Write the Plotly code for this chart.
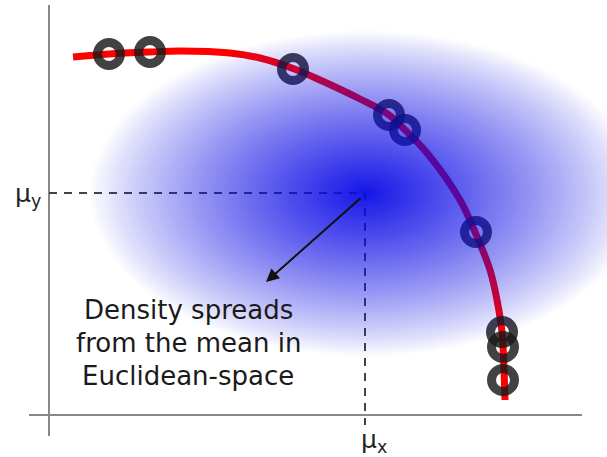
import numpy as np
import plotly.graph_objects as go

# ---- data (origin at the axes crossing, y upward) ----
curve_x = [24, 60, 101, 131, 181, 211, 244, 271, 311, 340, 356, 378, 411, 426, 441, 448, 453, 455, 456]
curve_y = [358, 361, 363, 364, 362, 357, 346.5, 335, 316, 300, 285, 262, 215, 183, 145, 115, 83, 45, 15]

sample_x = [60, 101, 244, 340, 356, 427, 453, 454, 454]
sample_y = [361, 363, 346, 300, 285, 183, 83, 68, 35]

mu_x, mu_y = 316, 222
spread_x, spread_y = 275, 162   # extent of the density ellipse
peak_alpha = 0.95

text_lines = ["Density spreads", "from the mean in", "Euclidean-space"]

X_RANGE = [-49, 558]
Y_RANGE = [-42, 415]

# density field (radial fall-off from the mean)
gx = np.linspace(X_RANGE[0], X_RANGE[1], 152)
gy = np.linspace(Y_RANGE[0], Y_RANGE[1], 115)
GX, GY = np.meshgrid(gx, gy)
R = np.sqrt(((GX - mu_x) / spread_x) ** 2 + ((GY - mu_y) / spread_y) ** 2)
Z = peak_alpha * np.clip(1 - R, 0, 1) ** 0.85

fig = go.Figure()

# dashed guide lines
fig.add_trace(go.Scatter(x=[0, mu_x], y=[mu_y, mu_y], mode="lines",
                         line=dict(color="#444444", width=2, dash="8px,7px"),
                         hoverinfo="skip", showlegend=False))
fig.add_trace(go.Scatter(x=[mu_x, mu_x], y=[mu_y, -10], mode="lines",
                         line=dict(color="#444444", width=2, dash="8px,7px"),
                         hoverinfo="skip", showlegend=False))

# red curve
fig.add_trace(go.Scatter(x=curve_x, y=curve_y, mode="lines",
                         line=dict(color="#ff0000", width=7, shape="spline", smoothing=1),
                         hoverinfo="skip", showlegend=False))
# sample circles
fig.add_trace(go.Scatter(x=sample_x, y=sample_y, mode="markers",
                         marker=dict(symbol="circle-open", size=23,
                                     color="rgba(25,25,25,0.82)",
                                     line=dict(width=9, color="rgba(25,25,25,0.82)")),
                         hoverinfo="skip", showlegend=False))

# density blob on overlaying axes (drawn on top)
fig.add_trace(go.Heatmap(x=gx, y=gy, z=Z, zmin=0, zmax=1, zsmooth="best",
                         colorscale=[[0, "rgba(10,10,230,0)"], [1, "rgba(10,10,230,1)"]],
                         showscale=False, hoverinfo="skip", xaxis="x2", yaxis="y2"))

# axes lines
fig.add_shape(type="line", x0=0, x1=0, y0=-21, y1=410, line=dict(color="#888888", width=2), layer="below")
fig.add_shape(type="line", x0=-20, x1=533, y0=0, y1=0, line=dict(color="#888888", width=2), layer="below")

font = dict(family="DejaVu Sans", size=26, color="#1a1a1a")
# axis labels
fig.add_annotation(x=-21, y=mu_y - 2, text="μ<sub>y</sub>", showarrow=False,
                   font=dict(family="DejaVu Sans", size=25, color="#222222"))
fig.add_annotation(x=mu_x + 9, y=-26, text="μ<sub>x</sub>", showarrow=False,
                   font=dict(family="DejaVu Sans", size=25, color="#222222"))

# arrow
fig.add_annotation(x=217, y=133, ax=mu_x - 3, ay=mu_y - 4, xref="x", yref="y",
                   axref="x", ayref="y", text="", showarrow=True,
                   arrowhead=2, arrowsize=1.3, arrowwidth=2, arrowcolor="#111111")

# text block
for i, t in enumerate(text_lines):
    fig.add_annotation(x=139, y=105 - 33 * i, text=t, showarrow=False, font=font)

fig.update_layout(
    width=607, height=457, margin=dict(l=0, r=0, t=0, b=0),
    paper_bgcolor="white", plot_bgcolor="white",
    xaxis=dict(range=X_RANGE, visible=False, fixedrange=True),
    yaxis=dict(range=Y_RANGE, visible=False, fixedrange=True),
    xaxis2=dict(range=X_RANGE, visible=False, overlaying="x", fixedrange=True),
    yaxis2=dict(range=Y_RANGE, visible=False, overlaying="y", fixedrange=True),
)

fig.write_html("out.html", config={"displayModeBar": False},
               post_script="document.body.style.margin='0px';")
